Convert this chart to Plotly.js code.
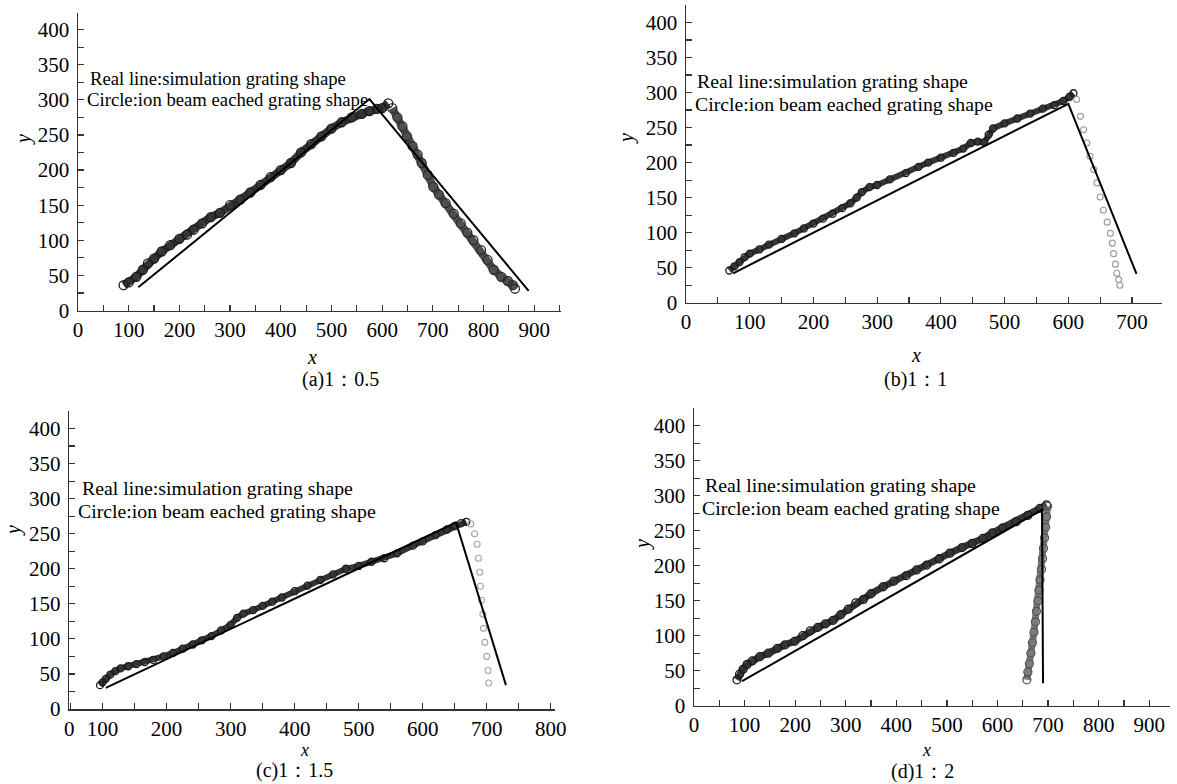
<!DOCTYPE html>
<html>
<head>
<meta charset="utf-8">
<script src="https://cdn.plot.ly/plotly-3.0.1.min.js"></script>
<style>html,body{margin:0;padding:0;background:#fff;}#chart{width:1177px;height:784px;}</style>
</head>
<body>
<div id="chart"></div>
<script>
// ---------- data ----------
// (a) 1:0.5
const aLineX = [119, 575, 889];
const aLineY = [33, 301, 28];
const aUpX = [90,100,115,128,138,150,165,182,200,215,228,245,262,280,300,320,340,360,380,400,420,440,460,480,500,520,540,560,575,590,600,612];
const aUpY = [36,40,48,58,67,74,84,93,102,108,115,124,133,139,150,158,168,179,190,200,210,225,237,248,259,268,275,280,284,287,288,295];
const aDownX = [620,630,640,649,660,670,678,690,701,712,725,741,755,768,780,795,808,820,835,848,858,862];
const aDownY = [288,275,262,248,234,222,210,193,176,165,153,138,124,111,100,86,72,58,48,42,36,31];
// (b) 1:1
const bLineX = [74, 600, 707];
const bLineY = [42, 284, 41];
const bUpX = [68,76,84,92,100,115,130,150,170,185,200,215,230,245,258,268,276,288,300,320,345,365,380,400,420,435,447,458,468,475,482,500,520,540,560,578,592,602,608];
const bUpY = [46,52,58,65,70,76,83,91,99,106,113,120,127,135,142,150,158,165,168,176,185,194,200,207,214,220,228,230,229,240,249,256,263,270,277,282,288,294,299];
const bDownX = [613,619,624,629,634,640,645,650,655,661,666,669,671,674,676,679,681];
const bDownY = [290,266,247,228,209,190,171,151,132,115,99,85,70,55,42,33,25];
// (c) 1:1.5
const cLineX = [105, 652, 730];
const cLineY = [30, 266, 34];
const cUpX = [96,100,105,112,120,128,140,153,166,179,195,210,225,241,255,270,285,300,310,320,335,350,365,380,400,420,440,460,480,500,520,540,560,585,600,620,638,650,660,668];
const cUpY = [34,38,43,49,54,58,61,64,67,70,75,80,86,92,98,104,112,120,130,136,141,147,153,159,168,176,184,192,200,204,210,215,222,233,239,248,256,261,265,267];
const cDownX = [675,681,685,687,689,690,692,694,695,697,700,702,703];
const cDownY = [264,250,235,215,195,175,155,135,115,95,75,55,37];
// (d) 1:2
const dLineX = [95, 688, 690];
const dLineY = [35, 280, 32];
const dUpX = [85,90,97,105,115,130,147,165,180,199,215,230,245,260,275,290,305,320,335,350,374,395,420,440,460,485,506,530,550,571,590,610,637,660,684,697];
const dUpY = [37,45,52,59,64,70,75,82,87,92,100,107,112,117,122,130,138,147,152,160,170,178,186,194,201,210,218,226,232,239,247,254,263,272,282,287];
const dDownX = [699,697,695,693,691,689,687,684,682,680,677,675,672,669,666,663,660,658];
const dDownY = [285,270,255,240,225,210,195,180,165,150,135,120,105,90,75,60,48,37];

// tick labels
const cXTickVals = [48,100,200,300,400,500,600,700,800];
const cXTickText = ['0','100','200','300','400','500','600','700','800'];

const labelLine1 = 'Real line:simulation grating shape';
const labelLine2 = 'Circle:ion beam eached grating shape';
const subTitles = ['(a)1\uFF1A0.5', '(b)1\uFF1A1', '(c)1\uFF1A1.5', '(d)1\uFF1A2'];

// ---------- styling ----------
const SERIF = "'Liberation Serif', 'Times New Roman', serif";
const AX = '#333';

function xAxis(domain, range, anchor, extra) {
  return Object.assign({
    domain: domain, range: range, anchor: anchor,
    tick0: 0, dtick: 100, ticks: 'inside', ticklen: 6, tickwidth: 1.2, tickcolor: AX,
    showline: true, linecolor: AX, linewidth: 1.5, showgrid: false, zeroline: false,
    ticklabelstandoff: 0,
    tickfont: {family: SERIF, size: 21, color: '#000'},
    minor: {tickmode: 'linear', tick0: 0, dtick: 50, ticks: 'inside', ticklen: 6, tickwidth: 1.2, tickcolor: AX, showgrid: false},
    fixedrange: true
  }, extra || {});
}
function yAxis(domain, range, anchor) {
  return {
    domain: domain, range: range, anchor: anchor,
    tick0: 0, dtick: 50, ticks: 'inside', ticklen: 6, tickwidth: 1.2, tickcolor: AX,
    showline: true, linecolor: AX, linewidth: 1.5, showgrid: false, zeroline: false,
    ticklabelstandoff: 3,
    tickfont: {family: SERIF, size: 21, color: '#000'},
    minor: {tickmode: 'linear', tick0: 0, dtick: 25, ticks: 'inside', ticklen: 6, tickwidth: 1.2, tickcolor: AX, showgrid: false},
    fixedrange: true
  };
}

function band(x, y, xa, ya, col, lw, ms, mcol) {
  return {x: x, y: y, xaxis: xa, yaxis: ya, type: 'scatter', mode: 'lines+markers',
    line: {color: col, width: lw}, marker: {symbol: 'circle-open', size: ms, color: mcol, line: {width: 1.3, color: mcol}},
    hoverinfo: 'skip'};
}
function faint(x, y, xa, ya, col, ms) {
  return {x: x, y: y, xaxis: xa, yaxis: ya, type: 'scatter', mode: 'markers',
    marker: {symbol: 'circle-open', size: ms, color: col, line: {width: 1.1, color: col}}, hoverinfo: 'skip'};
}
function simLine(x, y, xa, ya) {
  return {x: x, y: y, xaxis: xa, yaxis: ya, type: 'scatter', mode: 'lines',
    line: {color: '#000', width: 2}, hoverinfo: 'skip'};
}

const DARK = 'rgba(25,25,25,0.88)';
const traces = [
  band(aUpX, aUpY, 'x', 'y', DARK, 8, 9, '#1a1a1a'),
  band(aDownX, aDownY, 'x', 'y', 'rgba(55,55,55,0.88)', 8, 9, '#2a2a2a'),
  simLine(aLineX, aLineY, 'x', 'y'),

  band(bUpX, bUpY, 'x2', 'y2', DARK, 6, 7, '#1a1a1a'),
  faint(bDownX, bDownY, 'x2', 'y2', '#9a9a9a', 6),
  simLine(bLineX, bLineY, 'x2', 'y2'),

  band(cUpX, cUpY, 'x3', 'y3', DARK, 6, 7, '#1a1a1a'),
  faint(cDownX, cDownY, 'x3', 'y3', '#a5a5a5', 6),
  simLine(cLineX, cLineY, 'x3', 'y3'),

  band(dUpX, dUpY, 'x4', 'y4', DARK, 7, 8, '#1a1a1a'),
  band(dDownX, dDownY, 'x4', 'y4', 'rgba(100,100,100,0.85)', 7, 8, '#555'),
  simLine(dLineX, dLineY, 'x4', 'y4')
];

function txt(text, x, y, xref, yref, size, extra) {
  return Object.assign({text: text, x: x, y: y, xref: xref, yref: yref, showarrow: false,
    xanchor: 'left', yanchor: 'middle', font: {family: SERIF, size: size, color: '#000'}}, extra || {});
}
function ptxt(text, x, y, size, extra) {
  return Object.assign({text: text, x: x, y: y, xref: 'paper', yref: 'paper', showarrow: false,
    xanchor: 'center', yanchor: 'middle', font: {family: SERIF, size: size, color: '#000'}}, extra || {});
}
const ital = {family: SERIF, size: 20, color: '#000'};
const italS = {family: SERIF, size: 18, color: '#000'};

const annotations = [
  txt(labelLine1, 20, 331, 'x', 'y', 18.7), txt(labelLine2, 14, 300, 'x', 'y', 18.7),
  txt(labelLine1, 14, 317, 'x2', 'y2', 19.8), txt(labelLine2, 11, 283, 'x2', 'y2', 19.8),
  txt(labelLine1, 64, 315, 'x3', 'y3', 19.8), txt(labelLine2, 58, 283, 'x3', 'y3', 19.8),
  txt(labelLine1, 18, 315, 'x4', 'y4', 19.8), txt(labelLine2, 11, 283, 'x4', 'y4', 19.8),

  ptxt('<i>x</i>', 312/1177, 1-357/784, 20, {font: ital}),
  ptxt('<i>y</i>', 23/1177, 1-140/784, 20, {font: ital, textangle: -90}),
  ptxt(subTitles[0], 340/1177, 1-380/784, 20),

  ptxt('<i>x</i>', 916/1177, 1-355/784, 20, {font: ital}),
  ptxt('<i>y</i>', 627/1177, 1-138/784, 20, {font: ital, textangle: -90}),
  ptxt(subTitles[1], 915/1177, 1-380/784, 20),

  ptxt('<i>x</i>', 304/1177, 1-750/784, 18, {font: italS}),
  ptxt('<i>y</i>', 13/1177, 1-531/784, 20, {font: ital, textangle: -90}),
  ptxt(subTitles[2], 294/1177, 1-770/784, 20),

  ptxt('<i>x</i>', 926/1177, 1-750/784, 18, {font: italS}),
  ptxt('<i>y</i>', 642/1177, 1-545/784, 20, {font: ital, textangle: -90}),
  ptxt(subTitles[3], 923/1177, 1-771/784, 20)
];

const layout = {
  width: 1177, height: 784, margin: {l: 0, r: 0, t: 0, b: 0},
  paper_bgcolor: '#fff', plot_bgcolor: 'rgba(0,0,0,0)', showlegend: false,
  xaxis: xAxis([78/1177, 560.6/1177], [0, 952], 'y'),
  yaxis: yAxis([1-310.5/784, 1-12.7/784], [0, 424], 'x'),
  xaxis2: xAxis([686/1177, 1162/1177], [0, 747], 'y2'),
  yaxis2: yAxis([1-302.7/784, 1-5/784], [0, 425], 'x2'),
  xaxis3: xAxis([69.3/1177, 554.6/1177], [48, 806], 'y3', {tickmode: 'array', tickvals: cXTickVals, ticktext: cXTickText}),
  yaxis3: yAxis([1-709/784, 1-411/784], [0, 425], 'x3'),
  xaxis4: xAxis([694/1177, 1170/1177], [0, 941], 'y4'),
  yaxis4: yAxis([1-705.7/784, 1-408.3/784], [0, 425], 'x4'),
  annotations: annotations
};

Plotly.newPlot('chart', traces, layout, {displayModeBar: false, staticPlot: true});
</script>
</body>
</html>
